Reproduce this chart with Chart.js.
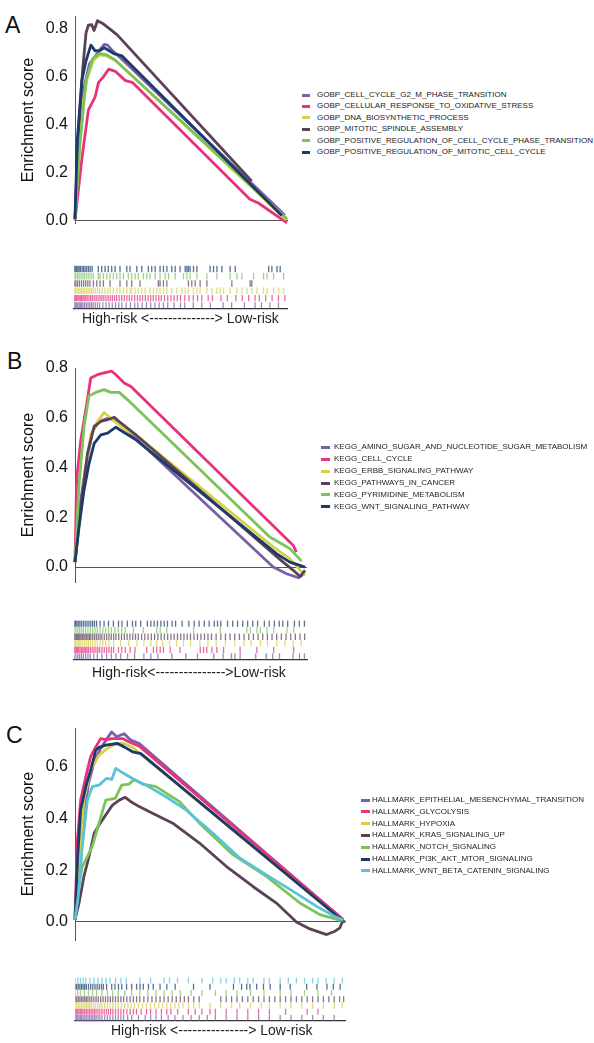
<!DOCTYPE html>
<html>
<head>
<meta charset="utf-8">
<script src="https://cdn.jsdelivr.net/npm/chart.js@4.4.1/dist/chart.umd.min.js"></script>
<style>
  body { margin: 0; background: #fff; font-family: "Liberation Sans", Arial, sans-serif; }
  #page { position: relative; width: 594px; height: 1043px; overflow: hidden; }
  canvas { position: absolute; left: 0; }
  .letter { position: absolute; font-size: 23px; line-height: 1; color: #111; }
  .risk { position: absolute; font-size: 14px; line-height: 1; color: #222; white-space: pre; }
  .leg-text { position: absolute; font-size: 8px; line-height: 1; color: #222; white-space: nowrap; }
  .leg-sw { position: absolute; height: 3px; }
</style>
</head>
<body>
<div id="page">
  <div class="letter" style="left:5px; top:14px;">A</div>
  <div class="letter" style="left:7px; top:350px;">B</div>
  <div class="letter" style="left:6px; top:724px;">C</div>

  <canvas id="curveA" width="300" height="240" style="top:0px"></canvas>
  <canvas id="barsA" width="300" height="55" style="top:260px"></canvas>
  <div class="risk" style="left:82px; top:311px;">High-risk &lt;--------------&gt; Low-risk</div>

  <canvas id="curveB" width="320" height="260" style="top:340px"></canvas>
  <canvas id="barsB" width="320" height="50" style="top:615px"></canvas>
  <div class="risk" style="left:92px; top:665px;">High-risk&lt;---------------&gt;Low-risk</div>

  <canvas id="curveC" width="360" height="270" style="top:690px"></canvas>
  <canvas id="barsC" width="360" height="55" style="top:972px"></canvas>
  <div class="risk" style="left:111px; top:1023px;">High-risk &lt;---------------&gt; Low-risk</div>
</div>

<script>
// --- Colours ---
const PURPLE = "#7a5fa6";
const PINK = "#e6337b";
const YELLOW = "#d6d04a";
const PLUM = "#5c4257";
const GREEN = "#7bc35a";
const NAVY = "#1d3a6d";
const CYAN = "#5ac4d6";

// --- Panel A: GO biological process (points are [rank 0-1000, enrichment score]) ---
const goNames = [
  "GOBP_CELL_CYCLE_G2_M_PHASE_TRANSITION",
  "GOBP_CELLULAR_RESPONSE_TO_OXIDATIVE_STRESS",
  "GOBP_DNA_BIOSYNTHETIC_PROCESS",
  "GOBP_MITOTIC_SPINDLE_ASSEMBLY",
  "GOBP_POSITIVE_REGULATION_OF_CELL_CYCLE_PHASE_TRANSITION",
  "GOBP_POSITIVE_REGULATION_OF_MITOTIC_CELL_CYCLE",
];
const goColors = [PURPLE, PINK, YELLOW, PLUM, GREEN, NAVY];
const goG2M = [[0,0.007],[21,0.336],[43,0.556],[68,0.652],[100,0.69],[119,0.714],[138,0.734],[154,0.731],[175,0.709],[214,0.679],[976,0.034],[989,0.021]];
const goOxid = [[0,0],[11,0.089],[32,0.254],[63,0.46],[95,0.515],[111,0.576],[135,0.6],[159,0.631],[190,0.622],[238,0.583],[270,0.576],[825,0.089],[865,0.073],[1000,-0.01]];
const goDna = [[0,0.007],[17,0.268],[37,0.487],[59,0.597],[87,0.668],[116,0.69],[148,0.686],[190,0.668],[992,0.007],[1000,0.004]];
const goSpindle = [[0,0.007],[16,0.364],[37,0.638],[52,0.782],[63,0.814],[79,0.816],[90,0.792],[106,0.833],[135,0.819],[198,0.775],[833,0.165]];
const goPhase = [[0,0.007],[24,0.322],[52,0.583],[84,0.676],[119,0.696],[151,0.69],[190,0.668],[992,0.014],[1000,0.004]];
const goMitotic = [[0,0.007],[11,0.336],[32,0.583],[52,0.666],[75,0.731],[95,0.707],[119,0.709],[138,0.72],[183,0.696],[222,0.686],[960,0.034],[976,0.021]];
const goTicks = [0, 0.2, 0.4, 0.6, 0.8];

const goHitsG2M = [0,6,12,18,24,30,36,42,50,58,66,74,82,90,100,110,120,135,150,165,180,195,210,225,245,265,285,300,320,340,360,380,400,420,440,470,500,520,560,600,640,700,740,800,850,880,920,960];
const goHitsOxid = [0,6,12,18,24,30,36,42,48,55,62,70,78,86,95,104,113,122,131,140,150,160,170,180,190,200,212,224,236,248,260,272,285,298,310,322,335,348,360,372,385,398,410,425,440,455,470,485,500,520,540,560,580,600,630,650,690,720,760,790,820,850,870,900,930,960,990];
const goHitsDna = [0,7,14,21,28,35,42,50,58,66,74,82,90,100,110,120,132,145,158,170,185,201,216,232,248,263,271,287,302,318,334,357,373,389,404,420,436,459,483,506,522,537,561,577,592,624,647,671,686,702,733,765,788,812,835,859,890,906,937,961,984];
const goHitsSpindle = [0,8,16,25,35,45,55,65,75,91,107,122,138,169,216,248,271,310,396,404,420,436,537,553,569,592,624,741,827,835];
const goHitsPhase = [0,8,16,24,33,42,50,60,70,80,90,114,122,138,154,169,185,201,216,232,255,271,287,302,326,342,357,381,404,428,444,475,514,530,545,577,624,671,733,765,788,843,890,906,937,984];
const goHitsMitotic = [0,6,12,18,24,30,38,45,52,60,68,76,85,114,130,146,161,177,193,216,248,263,295,318,349,365,381,404,420,436,459,475,498,522,530,537,545,561,577,639,655,671,694,733,757,914,929,953,968];

// --- Panel B: KEGG ---
const keggNames = [
  "KEGG_AMINO_SUGAR_AND_NUCLEOTIDE_SUGAR_METABOLISM",
  "KEGG_CELL_CYCLE",
  "KEGG_ERBB_SIGNALING_PATHWAY",
  "KEGG_PATHWAYS_IN_CANCER",
  "KEGG_PYRIMIDINE_METABOLISM",
  "KEGG_WNT_SIGNALING_PATHWAY",
];
const keggColors = [PURPLE, PINK, YELLOW, PLUM, GREEN, NAVY];
const keggAmino = [[0,0.02],[17,0.215],[46,0.403],[75,0.545],[104,0.585],[141,0.598],[177,0.592],[858,0],[916,-0.027],[967,-0.043],[991,-0.027]];
const keggCellCycle = [[0,0.02],[7,0.35],[25,0.51],[49,0.645],[68,0.76],[97,0.773],[126,0.78],[159,0.787],[177,0.773],[213,0.74],[242,0.726],[945,0.087],[958,0.06]];
const keggErbb = [[0,0.02],[25,0.215],[43,0.376],[68,0.531],[97,0.585],[126,0.621],[162,0.592],[220,0.551],[264,0.531],[858,0.081],[930,0.034],[981,-0.02],[996,-0.034]];
const keggCancer = [[0,0.02],[25,0.242],[54,0.457],[83,0.565],[112,0.585],[141,0.592],[170,0.602],[191,0.585],[264,0.531],[901,0.02],[945,-0.013],[974,-0.038],[996,-0.013]];
const keggPyrimidine = [[0,0.02],[17,0.323],[39,0.565],[61,0.688],[90,0.702],[126,0.713],[155,0.702],[191,0.702],[228,0.672],[843,0.121],[894,0.094],[930,0.074],[981,0.024]];
const keggWnt = [[0,0.02],[17,0.161],[39,0.309],[61,0.417],[83,0.497],[112,0.531],[141,0.538],[177,0.562],[206,0.545],[264,0.511],[872,0.054],[930,0.02],[996,0]];
const keggTicks = [0, 0.2, 0.4, 0.6, 0.8];

const keggHitsAmino = [0,8,16,24,32,40,50,60,70,85,100,120,140,160,180,200,230,260,300,330,360,420,480,530,600,640,676,691,713,780,825,853,882,940,968,989];
const keggHitsCellCycle = [0,5,10,15,20,26,32,38,44,50,56,62,70,78,86,94,102,110,120,130,140,150,160,170,191,205,220,241,262,312,341,355,370,384,413,455,542,556,570,592,613,642,713,785,857,943];
const keggHitsErbb = [0,6,12,18,24,30,38,46,54,62,70,80,90,100,112,124,136,150,170,200,235,270,300,330,355,380,410,440,470,500,540,575,610,650,690,730,760,800,830,870,905,940,975];
const keggHitsCancer = [0,5,10,15,20,25,30,36,42,48,54,60,66,72,80,88,96,104,112,120,130,140,150,160,170,180,192,204,216,228,240,252,264,276,290,304,318,332,346,360,374,388,402,416,430,444,458,472,486,500,515,530,545,560,575,590,610,630,650,670,690,710,730,750,770,790,810,830,850,870,890,910,930,950,970,990];
const keggHitsPyrimidine = [0,8,16,24,32,40,50,60,70,80,90,100,112,124,136,148,160,175,190,205,220,255,298,355,370,398,513,628,742,757,785,800,828,857,914,943];
const keggHitsWnt = [0,6,12,18,25,32,40,48,56,64,72,80,88,97,112,129,148,169,191,206,229,251,265,286,315,330,344,358,373,387,401,421,436,464,493,516,537,559,580,602,616,630,659,681,702,724,745,767,788,817,838,860,881,896,917,946,967,989];

// --- Panel C: Hallmark ---
const hmNames = [
  "HALLMARK_EPITHELIAL_MESENCHYMAL_TRANSITION",
  "HALLMARK_GLYCOLYSIS",
  "HALLMARK_HYPOXIA",
  "HALLMARK_KRAS_SIGNALING_UP",
  "HALLMARK_NOTCH_SIGNALING",
  "HALLMARK_PI3K_AKT_MTOR_SIGNALING",
  "HALLMARK_WNT_BETA_CATENIN_SIGNALING",
];
const hmColors = [PURPLE, PINK, YELLOW, PLUM, GREEN, NAVY, CYAN];
const hmEmt = [[0,0.009],[15,0.227],[33,0.407],[50,0.536],[71,0.619],[95,0.671],[116,0.705],[136,0.735],[154,0.716],[182,0.728],[207,0.703],[238,0.69],[994,0.006]];
const hmGlyco = [[0,0.015],[9,0.317],[21,0.472],[40,0.561],[58,0.639],[77,0.677],[95,0.709],[114,0.705],[139,0.709],[176,0.709],[201,0.696],[238,0.68],[994,0.009]];
const hmHypoxia = [[0,0.009],[15,0.227],[33,0.472],[58,0.587],[89,0.645],[120,0.671],[151,0.69],[182,0.69],[213,0.675],[994,0.003]];
const hmKras = [[0,0.009],[15,0.073],[33,0.176],[52,0.253],[71,0.343],[89,0.375],[114,0.414],[139,0.452],[164,0.471],[186,0.482],[207,0.465],[238,0.446],[287,0.42],[362,0.382],[461,0.305],[560,0.215],[659,0.137],[746,0.073],[820,0],[870,-0.027],[932,-0.049],[963,-0.036],[981,-0.023],[991,0.003],[1000,0]];
const hmNotch = [[0,0.009],[12,0.125],[27,0.215],[46,0.253],[64,0.292],[89,0.382],[114,0.471],[149,0.478],[173,0.529],[200,0.533],[219,0.551],[250,0.533],[300,0.523],[387,0.465],[461,0.382],[585,0.26],[709,0.176],[833,0.073],[907,0.028],[994,0.003]];
const hmPi3k = [[0,0.009],[10,0.253],[21,0.433],[40,0.523],[58,0.587],[77,0.664],[89,0.675],[114,0.684],[157,0.69],[182,0.677],[213,0.658],[244,0.651],[994,0.003]];
const hmWntBeta = [[0,0.009],[12,0.099],[27,0.292],[46,0.471],[64,0.523],[89,0.529],[116,0.555],[136,0.551],[151,0.594],[170,0.581],[213,0.555],[263,0.529],[337,0.484],[411,0.433],[511,0.343],[610,0.247],[709,0.182],[808,0.118],[895,0.06],[957,0.024],[994,0.006]];
const hmTicks = [0, 0.2, 0.4, 0.6];

const hmHitsEmt = [0,5,10,15,20,25,30,36,42,48,54,60,66,72,78,85,92,100,110,120,130,140,150,160,170,180,195,210,235,260,280,300,320,345,370,400,430,460,490,520,560,600,640,680,720,760,800,840,880,920,960];
const hmHitsGlyco = [0,5,10,15,20,25,30,36,42,48,54,60,66,72,78,85,92,100,108,116,124,132,140,150,160,170,180,192,204,216,228,245,265,280,300,320,340,355,380,420,445,470,500,520,560,600,640,680,720,780,860,900];
const hmHitsHypoxia = [0,6,12,18,24,30,36,42,48,54,60,68,76,84,92,100,110,120,130,140,150,160,172,184,196,208,220,235,250,265,280,295,310,325,340,355,370,385,400,420,440,460,500,540,580,610,650,690,720,760,800,840,880,920,960,990];
const hmHitsKras = [0,6,12,18,24,30,36,42,48,55,62,70,78,86,95,104,113,122,131,140,150,160,170,180,192,204,216,228,240,255,270,285,300,315,330,345,360,375,390,405,420,440,460,540,560,580,600,620,640,660,680,700,720,740,760,780,800,820,840,860,880,900,920,940,960,980,995];
const hmHitsNotch = [0,10,20,35,50,65,80,100,120,140,160,185,210,240,270,300,330,360,390,430,470,520,560,600,650,700,760,800,850,900,950];
const hmHitsPi3k = [0,6,12,18,24,30,36,42,50,58,66,74,82,90,98,105,117,136,148,161,173,191,210,228,241,253,272,290,315,340,371,439,500,587,617,636,648,673,698,723,760,797,858,896,933,957,982];
const hmHitsWntBeta = [0,10,20,30,40,55,70,85,100,115,130,150,170,190,240,280,330,350,380,420,470,510,540,560,590,610,640,660,700,720,760,790,820,850,880,900,930,960,990];

Chart.defaults.font.family = "'Liberation Sans', Arial, sans-serif";
Chart.defaults.animation = false;
Chart.defaults.events = [];

function withAlpha(hex, a) {
  const n = parseInt(hex.slice(1), 16);
  return `rgba(${(n >> 16) & 255}, ${(n >> 8) & 255}, ${n & 255}, ${a})`;
}

// Running enrichment score curves
function makeCurve(id, names, colors, series, yMin, yMax, yTicks, pad) {
  new Chart(document.getElementById(id), {
    type: "line",
    data: {
      datasets: series.map((pts, i) => ({
        label: names[i],
        data: pts.map((p) => ({ x: p[0], y: p[1] })),
        borderColor: colors[i],
        borderWidth: 2.8,
        borderJoinStyle: "round",
        pointRadius: 0,
        tension: 0,
        fill: false,
        clip: false,
        order: series.length - i,
      })),
    },
    options: {
      responsive: false,
      layout: { padding: pad },
      plugins: { legend: { display: false }, tooltip: { enabled: false } },
      scales: {
        x: {
          type: "linear",
          min: 0,
          max: 1000,
          position: { y: 0 },
          grid: { display: false, drawTicks: false },
          ticks: { display: false },
          border: { display: true, color: "#555", width: 1 },
        },
        y: {
          min: yMin,
          max: yMax,
          afterFit: (s) => { s.width = 75; },
          afterBuildTicks: (s) => { s.ticks = yTicks.map((v) => ({ value: v })); },
          grid: { display: false, drawTicks: false },
          border: { display: true, color: "#555", width: 1 },
          ticks: { padding: 7, color: "#111", font: { size: 16 }, callback: (v) => v.toFixed(1) },
          title: {
            display: true,
            text: "Enrichment score",
            color: "#111",
            font: { size: 16 },
            padding: { top: 19, bottom: 0 },
          },
        },
      },
    },
  });
}

// Hit barcode under each panel
function makeBarcode(id, colors, hits, pad, radius) {
  new Chart(document.getElementById(id), {
    type: "scatter",
    data: {
      datasets: hits.map((h, i) => ({
        data: h.map((x) => ({ x: x, y: i })),
        pointStyle: "line",
        pointRotation: 90,
        pointRadius: radius,
        pointBorderWidth: 1.3,
        pointBorderColor: withAlpha(colors[i], 0.72),
        pointBackgroundColor: withAlpha(colors[i], 0.72),
      })),
    },
    options: {
      responsive: false,
      layout: { padding: pad },
      plugins: { legend: { display: false }, tooltip: { enabled: false } },
      scales: {
        x: {
          type: "linear",
          min: 0,
          max: 1000,
          afterFit: (s) => { s.height = 0; },
          grid: { display: false, drawTicks: false },
          ticks: { display: false },
          border: { display: true, color: "#333", width: 1.2 },
        },
        y: {
          display: false,
          min: -0.5,
          max: hits.length - 0.5,
        },
      },
    },
  });
}

// Legend beside each panel
function addLegend(names, colors, firstY, step, swatchX, swatchW, textX) {
  const page = document.getElementById("page");
  names.forEach((name, i) => {
    const cy = firstY + i * step;
    const sw = document.createElement("div");
    sw.className = "leg-sw";
    sw.style.left = swatchX + "px";
    sw.style.width = swatchW + "px";
    sw.style.top = cy - 1.5 + "px";
    sw.style.background = colors[i];
    page.appendChild(sw);
    const t = document.createElement("div");
    t.className = "leg-text";
    t.style.left = textX + "px";
    t.style.top = cy - 4 + "px";
    t.textContent = name;
    page.appendChild(t);
  });
}

makeCurve("curveA", goNames, goColors,
  [goG2M, goOxid, goDna, goSpindle, goPhase, goMitotic],
  -0.012, 0.85, goTicks, { left: 0, right: 13, top: 15, bottom: 15 });
makeBarcode("barsA", goColors,
  [goHitsG2M, goHitsOxid, goHitsDna, goHitsSpindle, goHitsPhase, goHitsMitotic],
  { left: 74, right: 13, top: 5, bottom: 6 }, 3.2);
addLegend(goNames, goColors, 95, 11.45, 302, 8, 317);

makeCurve("curveB", keggNames, keggColors,
  [keggAmino, keggCellCycle, keggErbb, keggCancer, keggPyrimidine, keggWnt],
  -0.06, 0.8, keggTicks, { left: 0, right: 14, top: 28, bottom: 18 });
makeBarcode("barsB", keggColors,
  [keggHitsAmino, keggHitsCellCycle, keggHitsErbb, keggHitsCancer, keggHitsPyrimidine, keggHitsWnt],
  { left: 74, right: 13, top: 5, bottom: 3 }, 3.2);
addLegend(keggNames, keggColors, 447.3, 11.9, 321, 9, 334);

makeCurve("curveC", hmNames, hmColors,
  [hmEmt, hmGlyco, hmHypoxia, hmKras, hmNotch, hmPi3k, hmWntBeta],
  -0.07, 0.75, hmTicks, { left: 0, right: 15, top: 38, bottom: 20 });
makeBarcode("barsC", hmColors,
  [hmHitsEmt, hmHitsGlyco, hmHitsHypoxia, hmHitsKras, hmHitsNotch, hmHitsPi3k, hmHitsWntBeta],
  { left: 75, right: 15, top: 5, bottom: 6 }, 3);
addLegend(hmNames, hmColors, 800, 11.8, 361, 9, 372);
</script>
</body>
</html>
